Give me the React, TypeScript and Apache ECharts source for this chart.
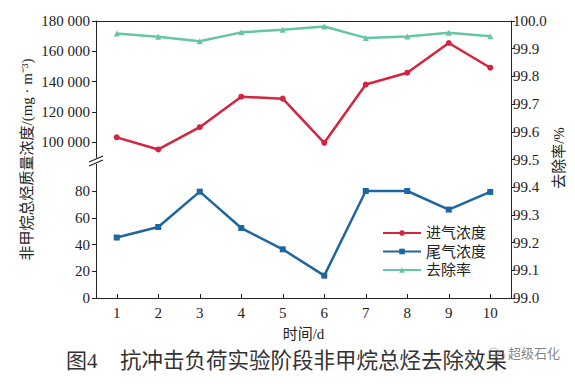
import React, { useEffect, useRef } from "react";
import * as echarts from "echarts";

const days = ["1", "2", "3", "4", "5", "6", "7", "8", "9", "10"];
const inletConc = [103300, 95300, 110000, 130100, 128800, 99700, 138100, 145900, 165500, 149200];
const outletConc = [45.2, 53.1, 79.5, 52.3, 36.4, 16.7, 80, 80, 66.1, 79.3];
const removalRate = [99.955, 99.943, 99.927, 99.959, 99.968, 99.98, 99.939, 99.944, 99.958, 99.945];
const upperTicks = [100000, 120000, 140000, 160000, 180000];
const lowerTicks = [0, 20, 40, 60, 80];

const RED = "#d4243f";
const BLUE = "#1d66a0";
const GREEN = "#66c4a7";
const INK = "#222";
const SERIF = "'Liberation Serif', 'Noto Sans CJK SC', serif";

export default function App() {
  const ref = useRef<HTMLDivElement>(null);
  useEffect(() => {
    document.body.style.margin = "0";
    const chart = echarts.init(ref.current!, null, { renderer: "svg" });
    const axisLine = { show: true, lineStyle: { color: INK, width: 1 } };
    const label = { color: INK, fontFamily: SERIF, fontSize: 15 };
    chart.setOption({
      animation: false,
      backgroundColor: "#fff",
      textStyle: { fontFamily: SERIF },
      grid: [
        { left: 96, right: 64, top: 21, height: 136.5 },
        { left: 96, right: 64, top: 164.25, height: 133.75 },
        { left: 96, right: 64, top: 21, height: 277 },
      ],
      legend: {
        orient: "vertical",
        left: 377,
        top: 220,
        itemWidth: 38,
        itemHeight: 7,
        itemGap: 2.5,
        textStyle: { color: INK, fontSize: 15, lineHeight: 16, fontFamily: SERIF },
        data: ["进气浓度", "尾气浓度", "去除率"],
      },
      xAxis: [
        {
          gridIndex: 0, type: "category", data: days, position: "top", boundaryGap: true,
          axisLine, axisTick: { show: false }, axisLabel: { show: false },
        },
        { gridIndex: 1, type: "category", data: days, boundaryGap: true, show: false },
        {
          gridIndex: 2, type: "category", data: days, position: "bottom", boundaryGap: true,
          axisLine,
          axisTick: { show: true, inside: true, alignWithLabel: true, length: 4, lineStyle: { color: INK } },
          axisLabel: { ...label, margin: 7 },
          name: "时间/d", nameLocation: "middle", nameGap: 28,
          nameTextStyle: { ...label },
        },
      ],
      yAxis: [
        {
          gridIndex: 0, type: "value", min: 90000, max: 180000,
          axisLine,
          axisTick: { show: true, length: 4, customValues: upperTicks, lineStyle: { color: INK } },
          axisLabel: {
            ...label, margin: 6, customValues: upperTicks,
            formatter: (v: number) => `${Math.round(v / 1000)} 000`,
          },
          splitLine: { show: false },
        },
        {
          gridIndex: 1, type: "value", min: 0, max: 100,
          axisLine,
          axisTick: { show: true, length: 4, customValues: lowerTicks, lineStyle: { color: INK } },
          axisLabel: { ...label, margin: 6, customValues: lowerTicks },
          splitLine: { show: false },
        },
        {
          gridIndex: 2, type: "value", position: "left", min: 0, max: 1,
          axisLine: { show: false }, axisTick: { show: false }, axisLabel: { show: false },
          splitLine: { show: false },
          name: "非甲烷总烃质量浓度/(mg · m⁻³)", nameLocation: "middle", nameGap: 62, nameRotate: 90,
          nameTextStyle: { ...label },
        },
        {
          gridIndex: 2, type: "value", position: "right", min: 99, max: 100, interval: 0.1,
          axisLine,
          axisTick: { show: true, length: 4, lineStyle: { color: INK } },
          axisLabel: { ...label, margin: 2, formatter: (v: number) => v.toFixed(1) },
          splitLine: { show: false },
        },
      ],
      series: [
        {
          name: "进气浓度", type: "line", xAxisIndex: 0, yAxisIndex: 0, data: inletConc,
          symbol: "circle", symbolSize: 6, showAllSymbol: true,
          lineStyle: { color: RED, width: 2.5 }, itemStyle: { color: RED },
        },
        {
          name: "尾气浓度", type: "line", xAxisIndex: 1, yAxisIndex: 1, data: outletConc,
          symbol: "rect", symbolSize: 6, showAllSymbol: true,
          lineStyle: { color: BLUE, width: 2.5 }, itemStyle: { color: BLUE },
        },
        {
          name: "去除率", type: "line", xAxisIndex: 2, yAxisIndex: 3, data: removalRate,
          symbol: "triangle", symbolSize: 6, showAllSymbol: true,
          lineStyle: { color: GREEN, width: 2.5 }, itemStyle: { color: GREEN },
        },
      ],
      graphic: [
        { type: "line", shape: { x1: 89, y1: 162, x2: 103, y2: 156 }, style: { stroke: INK, lineWidth: 1.2 } },
        { type: "line", shape: { x1: 89, y1: 166, x2: 103, y2: 160 }, style: { stroke: INK, lineWidth: 1.2 } },
        {
          type: "text", x: 559, y: 158, rotation: Math.PI / 2,
          style: { text: "去除率/%", fontSize: 15, fill: INK, fontFamily: SERIF, align: "center", verticalAlign: "middle" },
        },
        {
          type: "text", left: 66, top: 350,
          style: { text: "图4", fontSize: 21, fill: "#333", fontFamily: SERIF },
        },
        {
          type: "text", left: 120, top: 350,
          style: { text: "抗冲击负荷实验阶段非甲烷总烃去除效果", fontSize: 21.5, fill: "#333", fontFamily: SERIF },
        },
        {
          type: "text", left: 508, top: 347,
          style: { text: "超级石化", fontSize: 13, fill: "rgba(110,110,110,0.85)", fontFamily: SERIF },
        },
        { type: "ellipse", shape: { cx: 494, cy: 352, rx: 5, ry: 4 }, style: { fill: "none", stroke: "rgba(150,150,150,0.6)", lineWidth: 1 } },
        { type: "ellipse", shape: { cx: 501, cy: 356, rx: 4, ry: 3.2 }, style: { fill: "none", stroke: "rgba(150,150,150,0.6)", lineWidth: 1 } },
      ],
    });
    return () => chart.dispose();
  }, []);
  return <div ref={ref} style={{ width: 575, height: 384 }} />;
}
